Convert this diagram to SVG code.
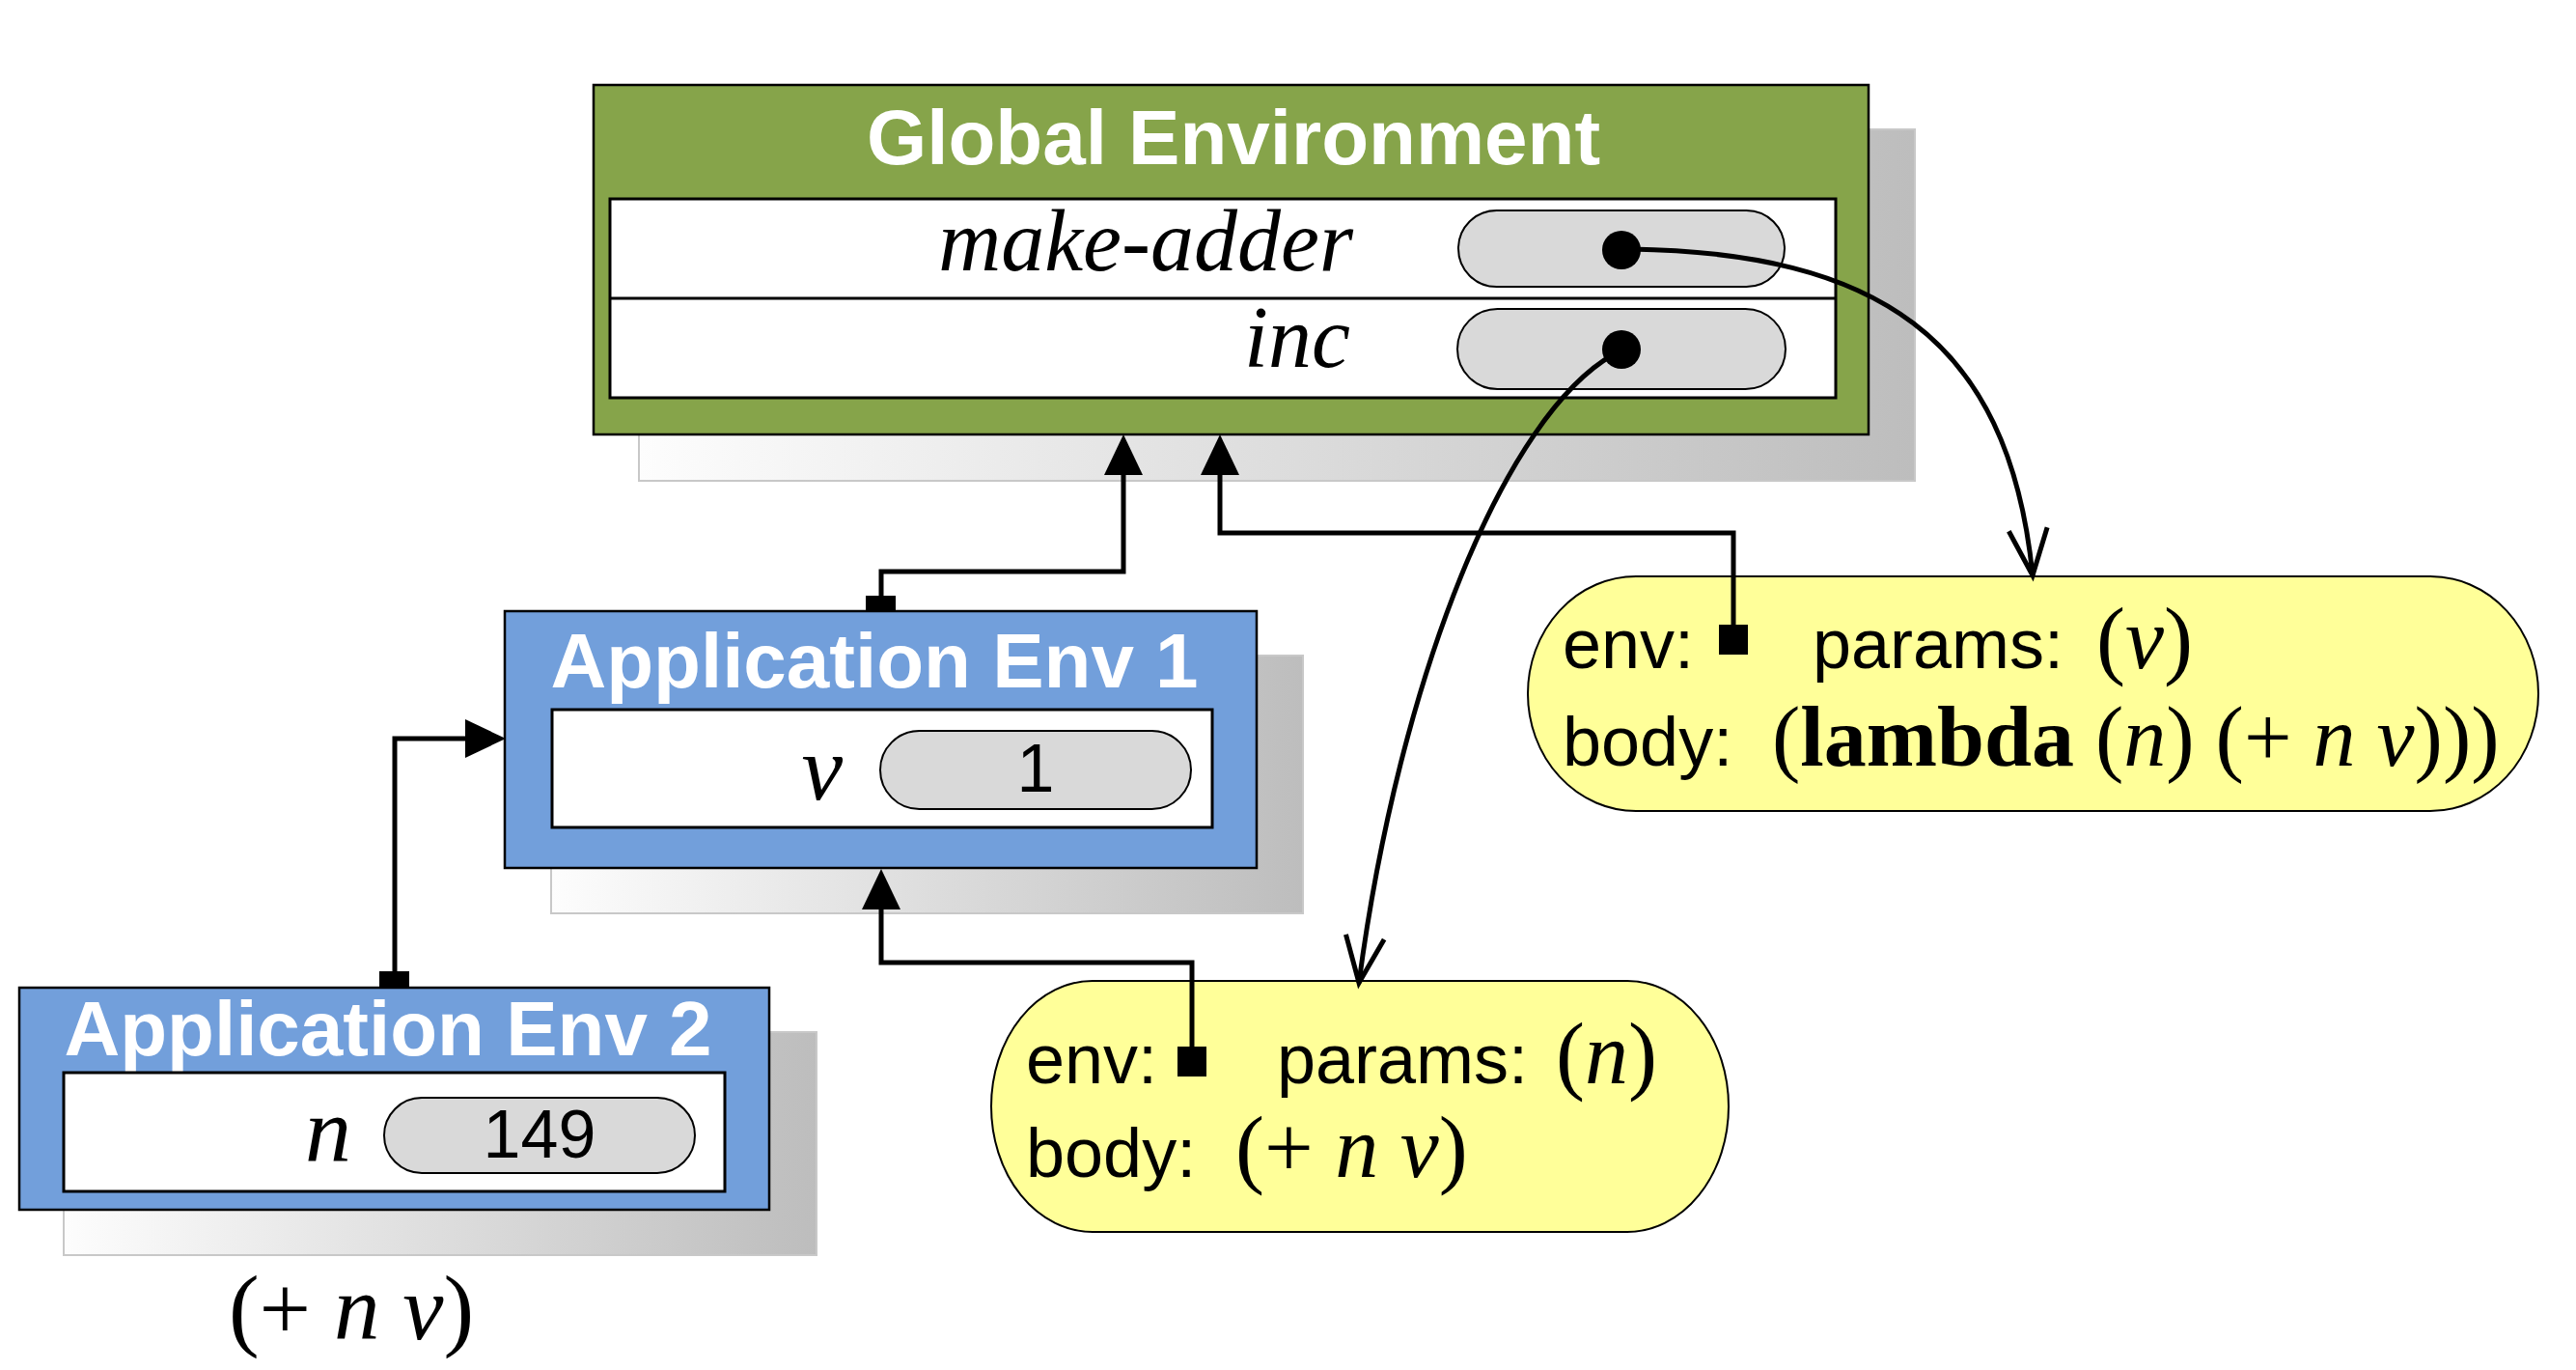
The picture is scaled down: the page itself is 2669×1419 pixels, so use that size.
<svg xmlns="http://www.w3.org/2000/svg" width="2669" height="1419" viewBox="0 0 2669 1419">
<defs>
<linearGradient id="shade" x1="0" y1="0" x2="1" y2="0">
<stop offset="0" stop-color="#fdfdfd"/>
<stop offset="1" stop-color="#bdbdbd"/>
</linearGradient>
<marker id="tri" markerUnits="userSpaceOnUse" markerWidth="44" markerHeight="42" refX="0" refY="20" orient="auto" overflow="visible">
<path d="M0,0 L42,20 L0,40 z" fill="#000"/>
</marker>
<marker id="vee" markerUnits="userSpaceOnUse" markerWidth="56" markerHeight="48" refX="50" refY="22" orient="auto" overflow="visible">
<path d="M2,2 L50,22 L2,42" fill="none" stroke="#000" stroke-width="5"/>
</marker>
<style>
.shadow{fill:url(#shade);stroke:#c8c8c8;stroke-width:2}
.frame{stroke:#000;stroke-width:2.5}
.green{fill:#86a44a}
.blue{fill:#729fdb}
.table{fill:#fff;stroke:#000;stroke-width:3}
.pill{fill:#d9d9d9;stroke:#000;stroke-width:2}
.closure{fill:#ffff99;stroke:#000;stroke-width:2}
.title{font-family:"Liberation Sans",Arial,sans-serif;font-weight:bold;font-size:80px;fill:#fff;text-anchor:middle}
.var{font-family:"Liberation Serif","Times New Roman",serif;font-style:italic;font-size:90px;text-anchor:end}
.val{font-family:"Liberation Sans",Arial,sans-serif;font-size:70px;text-anchor:middle}
.sans{font-family:"Liberation Sans",Arial,sans-serif;font-size:72px}
.ser{font-family:"Liberation Serif","Times New Roman",serif;font-size:90px}
.it{font-style:italic}
.bd{font-weight:bold}
.conn{fill:none;stroke:#000;stroke-width:5}
</style>
</defs>

<g id="global-env">
<rect class="shadow" x="662" y="134" width="1322" height="364"/>
<rect class="green frame" x="615" y="88" width="1321" height="362"/>
<text class="title" x="1278" y="170">Global Environment</text>
<rect class="table" x="632" y="206" width="1270" height="206"/>
<line x1="632" y1="309" x2="1902" y2="309" stroke="#000" stroke-width="3"/>
<text class="var" x="1402" y="280">make-adder</text>
<rect class="pill" x="1511" y="218" width="338" height="79" rx="39.5"/>
<text class="var" x="1399" y="380">inc</text>
<rect class="pill" x="1510" y="320" width="340" height="83" rx="41.5"/>
<circle cx="1680" cy="259" r="20"/>
<circle cx="1680" cy="362" r="20"/>
</g>

<g id="app-env-1">
<rect class="shadow" x="571" y="679" width="779" height="267"/>
<rect class="blue frame" x="523" y="633" width="779" height="266"/>
<text class="title" x="906" y="712">Application Env 1</text>
<rect class="table" x="572" y="735" width="684" height="122"/>
<text class="var" x="873" y="828" style="font-size:96px">v</text>
<rect class="pill" x="912" y="757" width="322" height="81" rx="40.5"/>
<text class="val" x="1073" y="820">1</text>
</g>

<g id="app-env-2">
<rect class="shadow" x="66" y="1069" width="780" height="231"/>
<rect class="blue frame" x="20" y="1023" width="777" height="230"/>
<text class="title" x="402" y="1093">Application Env 2</text>
<rect class="table" x="66" y="1111" width="685" height="123"/>
<text class="var" x="364" y="1203" style="font-size:96px">n</text>
<rect class="pill" x="398" y="1137" width="322" height="78" rx="39"/>
<text class="val" x="559" y="1199">149</text>
</g>

<g id="expr-label">
<text class="ser" x="364" y="1387" text-anchor="middle" style="font-size:95px">(+ <tspan class="it">n</tspan> <tspan class="it">v</tspan>)</text>
</g>

<g id="closure-make-adder">
<rect class="closure" x="1583" y="597" width="1047" height="243" rx="112" ry="121.5"/>
<text class="sans" x="1619" y="692">env:</text>
<rect x="1781" y="647" width="30" height="31" fill="#000"/>
<text class="sans" x="1878" y="692">params:</text>
<text class="ser" x="2172" y="692">(<tspan class="it">v</tspan>)</text>
<text class="sans" x="1619" y="793">body:</text>
<text class="ser" x="1836" y="793" style="font-size:88px">(<tspan class="bd">lambda</tspan> (<tspan class="it">n</tspan>) (+ <tspan class="it">n</tspan> <tspan class="it">v</tspan>)))</text>
</g>

<g id="closure-inc">
<rect class="closure" x="1027" y="1016" width="764" height="260" rx="105" ry="130"/>
<text class="sans" x="1063" y="1122">env:</text>
<rect x="1220" y="1084" width="30" height="31" fill="#000"/>
<text class="sans" x="1323" y="1122">params:</text>
<text class="ser" x="1612" y="1122">(<tspan class="it">n</tspan>)</text>
<text class="sans" x="1063" y="1219">body:</text>
<text class="ser" x="1280" y="1219">(+ <tspan class="it">n</tspan> <tspan class="it">v</tspan>)</text>
</g>

<g id="connectors">
<rect x="393" y="1006" width="31" height="17" fill="#000"/>
<path class="conn" d="M409,1008 V765 H482" marker-end="url(#tri)"/>
<rect x="897" y="617" width="31" height="16" fill="#000"/>
<path class="conn" d="M913,619 V592 H1164 V492" marker-end="url(#tri)"/>
<path class="conn" d="M1796,649 V552 H1264 V492" marker-end="url(#tri)"/>
<path class="conn" d="M1235,1086 V997 H913 V942" marker-end="url(#tri)"/>
<path class="conn" d="M1690,258 C1940,262 2081,346 2106,596" marker-end="url(#vee)"/>
<path class="conn" d="M1672,367 C1560,430 1450,700 1408,1018" marker-end="url(#vee)"/>
</g>
</svg>
